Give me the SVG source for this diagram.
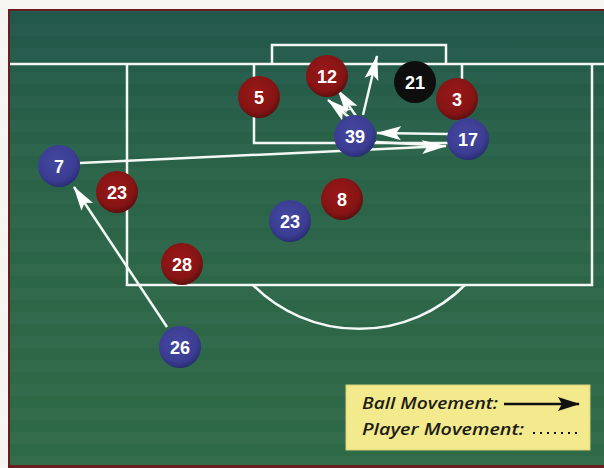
<svg xmlns="http://www.w3.org/2000/svg" width="604" height="468" viewBox="0 0 604 468">
<defs>
<linearGradient id="pitch" x1="0" y1="0" x2="0" y2="1">
<stop offset="0" stop-color="#21574a"/>
<stop offset="0.35" stop-color="#2a6348"/>
<stop offset="1" stop-color="#2f6a47"/>
</linearGradient>
<pattern id="stripes" width="604" height="24" patternUnits="userSpaceOnUse">
<rect width="604" height="12" fill="#ffffff" opacity="0.018"/>
</pattern>
<radialGradient id="red" cx="0.45" cy="0.4" r="0.6">
<stop offset="0" stop-color="#9a1818"/>
<stop offset="0.75" stop-color="#861414"/>
<stop offset="1" stop-color="#5e0f0f"/>
</radialGradient>
<radialGradient id="blue" cx="0.45" cy="0.4" r="0.6">
<stop offset="0" stop-color="#4548a0"/>
<stop offset="0.75" stop-color="#3a3d92"/>
<stop offset="1" stop-color="#2b2e74"/>
</radialGradient>
<marker id="wh" markerUnits="userSpaceOnUse" markerWidth="26" markerHeight="16" viewBox="0 0 26 16" refX="24" refY="8" orient="auto">
<path d="M0,1 L25,8 L0,15 L5,8 Z" fill="#ffffff"/>
</marker>
<marker id="bk" markerUnits="userSpaceOnUse" markerWidth="22" markerHeight="14" viewBox="0 0 22 14" refX="21" refY="7" orient="auto">
<path d="M0,0 L22,7 L0,14 L4,7 Z" fill="#111111"/>
</marker>
<style>
.line{fill:none;stroke:#f4f8f4;stroke-width:2.5}
.arr{fill:none;stroke:#f4f8f4;stroke-width:2.5;marker-end:url(#wh)}
.lbl{font-family:"Liberation Sans",Arial,sans-serif;font-weight:bold;font-size:18px;fill:#ffffff;text-anchor:middle}
.leg{font-family:"Open Sans","Liberation Sans",Arial,sans-serif;font-style:italic;font-weight:600;font-size:16px;fill:#1c1c14}
.r{fill:url(#red)}
.b{fill:url(#blue)}
.k{fill:#0e0e0e}
</style>
</defs>
<rect width="604" height="468" fill="#f7f5f2"/>
<rect x="8" y="9" width="596" height="459" fill="#6b1c1c"/>
<rect x="10" y="11" width="594" height="454" fill="url(#pitch)"/>
<rect x="10" y="11" width="594" height="454" fill="url(#stripes)"/>
<g id="pitch-lines">
<line class="line" x1="10" y1="64" x2="604" y2="64" stroke-width="3.5"/>
<path class="line" d="M272,64 V45 H446 V64"/>
<path class="line" d="M254,64 V143 H462 V64"/>
<path class="line" d="M127,64 V285 H592 V64"/>
<path class="line" d="M253,285 A150 150 0 0 0 465 285"/>
</g>
<g id="connectors">
<line class="arr" x1="80" y1="163" x2="446" y2="146"/>
<line class="line" x1="376" y1="142" x2="430" y2="145"/>
<line class="arr" x1="448" y1="134" x2="377" y2="133"/>
<line class="arr" x1="363" y1="115" x2="377" y2="56"/>
<line class="arr" x1="350" y1="118" x2="328" y2="100"/>
<line class="arr" x1="356" y1="116" x2="338" y2="90"/>
<line class="arr" x1="167" y1="327" x2="74" y2="187"/>
</g>
<g id="n5"><circle class="r" cx="259" cy="97" r="21"/><text class="lbl" x="259" y="104">5</text></g>
<g id="n12"><circle class="r" cx="327" cy="76" r="21"/><text class="lbl" x="327" y="83">12</text></g>
<g id="n21"><circle class="k" cx="415" cy="82" r="21"/><text class="lbl" x="415" y="89">21</text></g>
<g id="n3"><circle class="r" cx="457" cy="99" r="21"/><text class="lbl" x="457" y="106">3</text></g>
<g id="n39"><circle class="b" cx="355" cy="136" r="21"/><text class="lbl" x="355" y="143">39</text></g>
<g id="n17"><circle class="b" cx="468" cy="139" r="21"/><text class="lbl" x="468" y="146">17</text></g>
<g id="n7"><circle class="b" cx="59" cy="166" r="21"/><text class="lbl" x="59" y="173">7</text></g>
<g id="n23r"><circle class="r" cx="117" cy="192" r="21"/><text class="lbl" x="117" y="199">23</text></g>
<g id="n8"><circle class="r" cx="342" cy="199" r="21"/><text class="lbl" x="342" y="206">8</text></g>
<g id="n23b"><circle class="b" cx="290" cy="221" r="21"/><text class="lbl" x="290" y="228">23</text></g>
<g id="n28"><circle class="r" cx="182" cy="264" r="21"/><text class="lbl" x="182" y="271">28</text></g>
<g id="n26"><circle class="b" cx="180" cy="347" r="21"/><text class="lbl" x="180" y="354">26</text></g>
<g id="legend">
<rect x="346" y="385" width="244" height="65" fill="#f3ea8e" stroke="#d8cf74" stroke-width="1"/>
<text class="leg" x="362" y="409" textLength="136" lengthAdjust="spacingAndGlyphs">Ball Movement:</text>
<line x1="504" y1="404" x2="579" y2="404" stroke="#111111" stroke-width="2.5" marker-end="url(#bk)"/>
<text class="leg" x="362" y="435" textLength="162" lengthAdjust="spacingAndGlyphs">Player Movement:</text>
<line x1="533" y1="433" x2="581" y2="433" stroke="#111111" stroke-width="2" stroke-dasharray="2 5"/>
</g>
</svg>
